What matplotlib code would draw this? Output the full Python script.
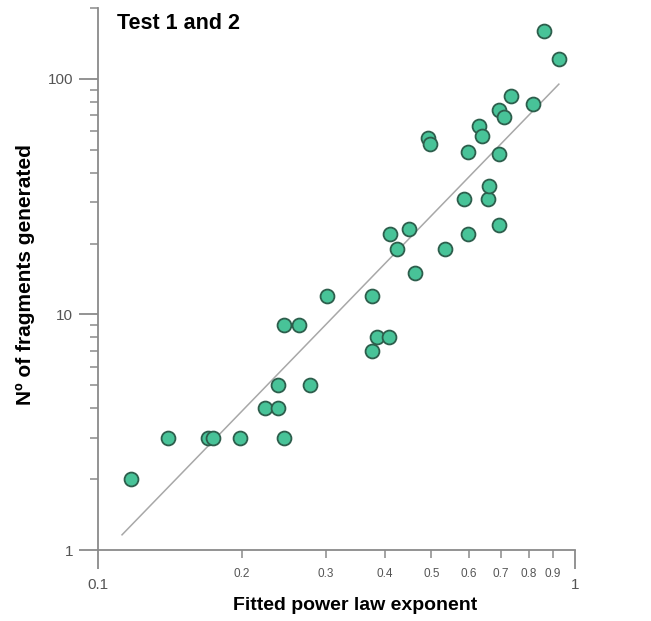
import matplotlib.pyplot as plt
from matplotlib.ticker import FixedLocator, FixedFormatter, NullFormatter

# exponent vs number of fragments
exponent = [0.117, 0.140, 0.170, 0.174, 0.198, 0.245, 0.224, 0.239, 0.239, 0.278,
            0.245, 0.264, 0.302, 0.376, 0.376, 0.385, 0.408, 0.463, 0.424, 0.410,
            0.449, 0.535, 0.598, 0.692, 0.584, 0.656, 0.661, 0.861, 0.925, 0.733,
            0.816, 0.692, 0.709, 0.628, 0.637, 0.493, 0.497, 0.598, 0.692]
fragments = [2, 3, 3, 3, 3, 3, 4, 4, 5, 5,
             9, 9, 12, 12, 7, 8, 8, 15, 19, 22,
             23, 19, 22, 24, 31, 31, 35, 160, 122, 85,
             78, 74, 69, 63, 57, 56, 53, 49, 48]

# fitted power law line (end points)
fit_x = [0.1123, 0.925]
fit_y = [1.16, 95]

x_minor = [0.2, 0.3, 0.4, 0.5, 0.6, 0.7, 0.8, 0.9]
x_minor_labels = ['0.2', '0.3', '0.4', '0.5', '0.6', '0.7', '0.8', '0.9']
y_minor = [2, 3, 4, 5, 6, 7, 8, 9, 20, 30, 40, 50, 60, 70, 80, 90, 200]

plt.rcParams['font.family'] = ['Liberation Sans', 'DejaVu Sans']

fig = plt.figure(figsize=(6.51, 6.21), dpi=100)
ax = fig.add_axes([98 / 651, (621 - 550) / 621, 477 / 651, 542 / 621])

ax.plot(fit_x, fit_y, color='#a8a8a8', linewidth=1.1, zorder=1)
ax.scatter(exponent, fragments, s=100, color='#48c398', edgecolors='#2d5e4c',
           linewidths=1.3, zorder=2)

ax.set_xscale('log')
ax.set_yscale('log')
ax.set_xlim(0.1, 1)
ax.set_ylim(1, 200)

for side in ['top', 'right']:
    ax.spines[side].set_visible(False)
for side in ['left', 'bottom']:
    ax.spines[side].set_color('#8a8a8a')
    ax.spines[side].set_linewidth(1.3)

ax.xaxis.set_major_locator(FixedLocator([0.1, 1]))
ax.xaxis.set_major_formatter(FixedFormatter(['0.1', '1']))
ax.xaxis.set_minor_locator(FixedLocator(x_minor))
ax.xaxis.set_minor_formatter(FixedFormatter(x_minor_labels))
ax.yaxis.set_major_locator(FixedLocator([1, 10, 100]))
ax.yaxis.set_major_formatter(FixedFormatter(['1', '10', '100']))
ax.yaxis.set_minor_locator(FixedLocator(y_minor))
ax.yaxis.set_minor_formatter(NullFormatter())

ax.tick_params(which='major', direction='out', length=14, width=1.3,
               color='#8a8a8a', labelcolor='#555555', labelsize=11)
ax.tick_params(which='minor', direction='out', length=6, width=1.1,
               color='#8a8a8a', labelcolor='#555555', labelsize=8.5)
ax.tick_params(axis='x', which='major', pad=6)
ax.tick_params(axis='x', which='minor', pad=7)
ax.tick_params(axis='y', which='major', pad=4)

ax.text(0.04, 0.99, 'Test 1 and 2', transform=ax.transAxes, fontsize=15.5,
        fontweight='bold', va='top', ha='left')

fig.text(355 / 651, 1 - 606 / 621, 'Fitted power law exponent', fontsize=14,
         fontweight='bold', ha='center', va='center')
fig.text(25 / 651, 1 - 275 / 621, 'Nº of fragments generated', fontsize=15,
         fontweight='bold', ha='center', va='center', rotation=90)

plt.savefig('out.png', dpi=100)
